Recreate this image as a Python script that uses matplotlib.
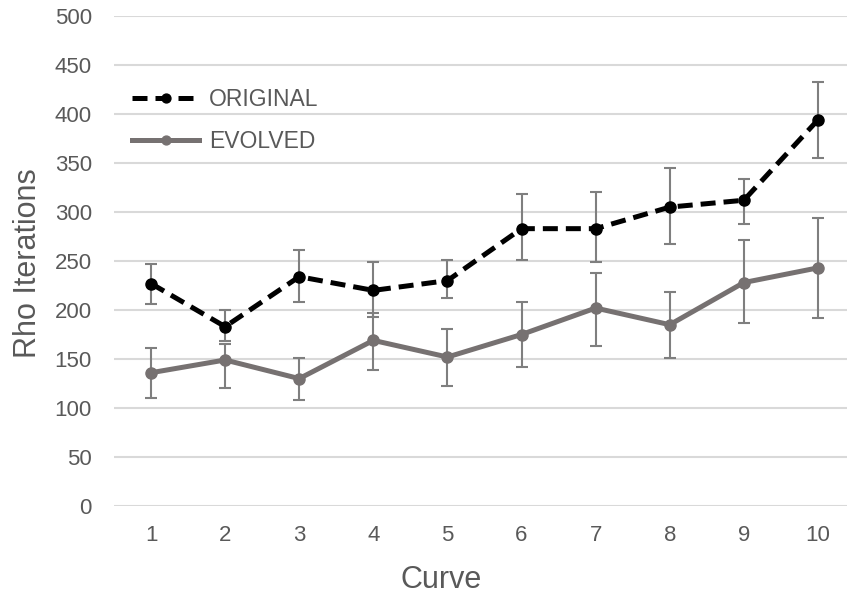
import matplotlib
matplotlib.use("Agg")
import matplotlib.pyplot as plt

# values
curves = [1, 2, 3, 4, 5, 6, 7, 8, 9, 10]
original_mean = [227, 183, 234, 220, 230, 283, 283, 305, 312, 394]
original_low = [206, 168, 208, 193, 212, 251, 249, 267, 288, 355]
original_high = [247, 200, 261, 249, 251, 318, 320, 345, 334, 433]
evolved_mean = [136, 149, 130, 169, 152, 175, 202, 185, 228, 243]
evolved_low = [110, 120, 108, 139, 122, 142, 163, 151, 187, 192]
evolved_high = [161, 165, 151, 197, 181, 208, 238, 218, 271, 294]
yticks = [0, 50, 100, 150, 200, 250, 300, 350, 400, 450, 500]

plt.rcParams['font.family'] = ['Liberation Sans', 'DejaVu Sans']
txt = '#595959'
grid = '#d9d9d9'
errc = '#7f7f7f'

fig = plt.figure(figsize=(8.47, 6.03), dpi=100)
ax = fig.add_axes([114/847, 1-506/603, 733/847, 490/603])

def err(mean, low, high):
    return [[m-l for m, l in zip(mean, low)], [h-m for m, h in zip(mean, high)]]

ax.errorbar(curves, original_mean, yerr=err(original_mean, original_low, original_high),
            fmt='none', ecolor=errc, elinewidth=1.5, capsize=4.5, capthick=1.5, zorder=2)
ax.errorbar(curves, evolved_mean, yerr=err(evolved_mean, evolved_low, evolved_high),
            fmt='none', ecolor=errc, elinewidth=1.5, capsize=4.5, capthick=1.5, zorder=2)

ax.plot(curves, original_mean, color='black', lw=3.6, ls=(0, (3, 1.6)),
        marker='o', ms=8, label='ORIGINAL', zorder=4)
ax.plot(curves, evolved_mean, color='#767171', lw=3.6,
        marker='o', ms=8, label='EVOLVED', zorder=3)

ax.set_xlim(0.5, 0.5 + 733/74.1)
ax.set_ylim(0, 500)
ax.set_yticks(yticks)
ax.set_xticks(curves)
ax.grid(axis='y', color=grid, lw=1.5)
ax.set_axisbelow(True)
for s in ax.spines.values():
    s.set_visible(False)
ax.tick_params(length=0, labelsize=16, labelcolor=txt)
ax.tick_params(axis='y', pad=16)
ax.tick_params(axis='x', pad=14)

ax.set_ylabel('Rho Iterations', fontsize=22, color=txt, va='center')
ax.yaxis.set_label_coords(28/847, 1-263/603, transform=fig.transFigure)
ax.set_xlabel('Curve', fontsize=22, color=txt, va='center')
ax.xaxis.set_label_coords(441/847, 1-580/603, transform=fig.transFigure)

leg = ax.legend(loc='upper left', bbox_to_anchor=(121/847, 1-77/603),
                bbox_transform=fig.transFigure, frameon=False, fontsize=16.5,
                handlelength=2.9, handletextpad=0.45, labelspacing=0.8,
                markerscale=0.8, borderpad=0)
for t in leg.get_texts():
    t.set_color(txt)

fig.savefig('out.png', dpi=100)
